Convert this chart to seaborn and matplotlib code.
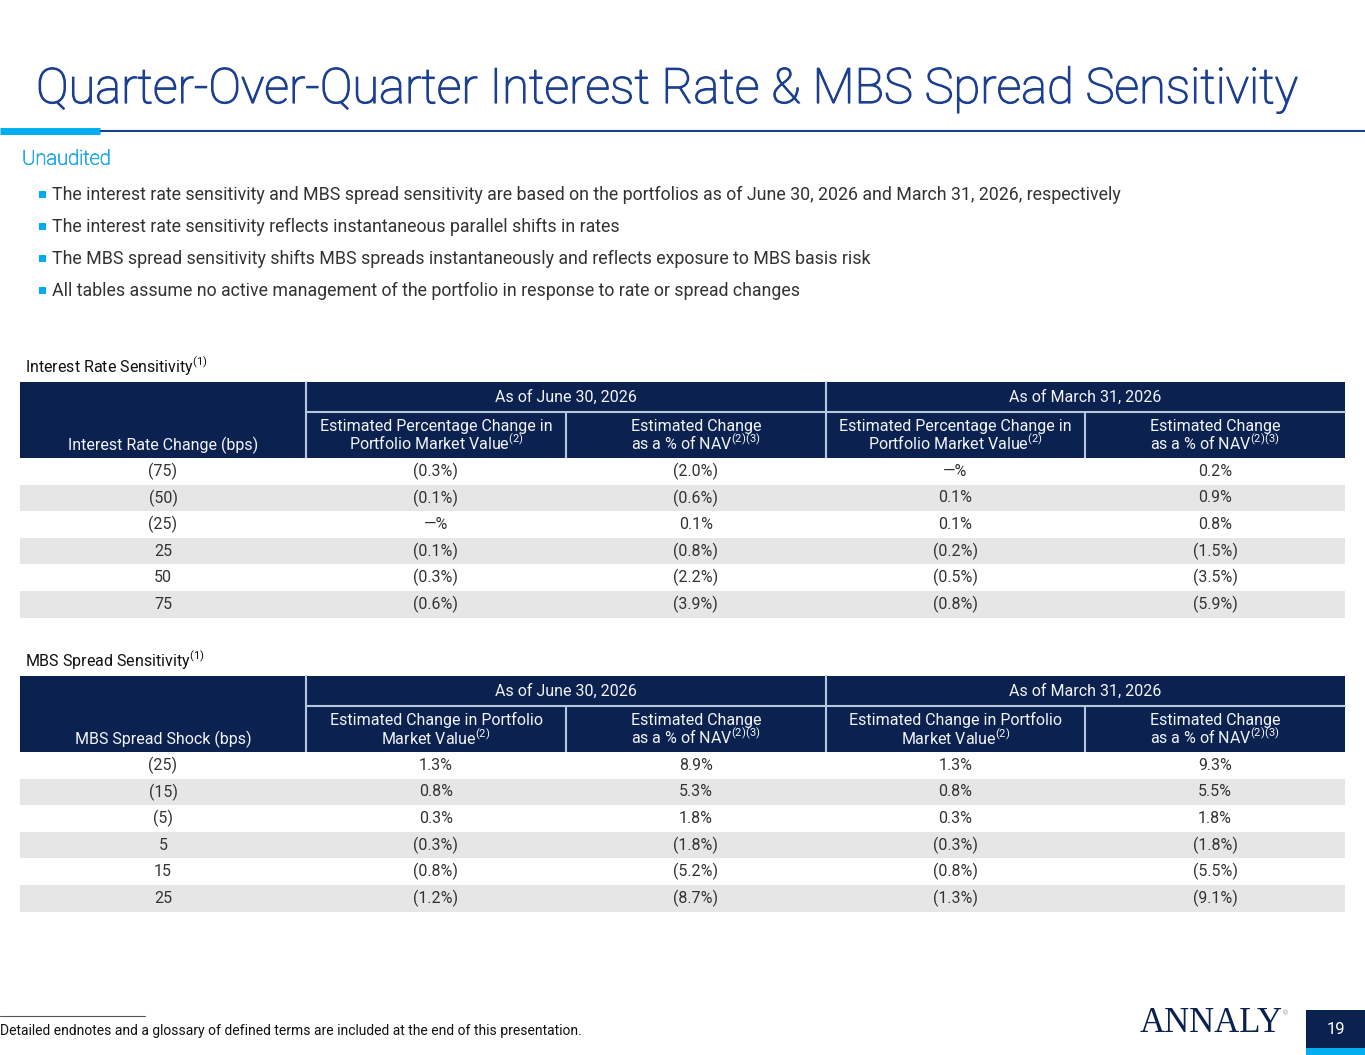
import numpy as np
import pandas as pd
import seaborn as sns
import matplotlib.pyplot as plt
import matplotlib.patheffects as pe
from matplotlib.colors import ListedColormap
from matplotlib.patches import Rectangle

# table values
rate_change = ['(75)', '(50)', '(25)', '25', '50', '75']
rate_jun_pmv = ['(0.3%)', '(0.1%)', '—%', '(0.1%)', '(0.3%)', '(0.6%)']
rate_jun_nav = ['(2.0%)', '(0.6%)', '0.1%', '(0.8%)', '(2.2%)', '(3.9%)']
rate_mar_pmv = ['—%', '0.1%', '0.1%', '(0.2%)', '(0.5%)', '(0.8%)']
rate_mar_nav = ['0.2%', '0.9%', '0.8%', '(1.5%)', '(3.5%)', '(5.9%)']

spread_shock = ['(25)', '(15)', '(5)', '5', '15', '25']
spread_jun_pmv = ['1.3%', '0.8%', '0.3%', '(0.3%)', '(0.8%)', '(1.2%)']
spread_jun_nav = ['8.9%', '5.3%', '1.8%', '(1.8%)', '(5.2%)', '(8.7%)']
spread_mar_pmv = ['1.3%', '0.8%', '0.3%', '(0.3%)', '(0.8%)', '(1.3%)']
spread_mar_nav = ['9.3%', '5.5%', '1.8%', '(1.8%)', '(5.5%)', '(9.1%)']

periods = ['As of June 30, 2026', 'As of March 31, 2026']
rate_headers = ['Estimated Percentage Change in\nPortfolio Market Value$^{(2)}$',
                'Estimated Change\nas a % of NAV$^{(2)(3)}$']
spread_headers = ['Estimated Change in Portfolio\nMarket Value$^{(2)}$',
                  'Estimated Change\nas a % of NAV$^{(2)(3)}$']

bullets = [
    'The interest rate sensitivity and MBS spread sensitivity are based on the portfolios as of June 30, 2026 and March 31, 2026, respectively',
    'The interest rate sensitivity reflects instantaneous parallel shifts in rates',
    'The MBS spread sensitivity shifts MBS spreads instantaneously and reflects exposure to MBS basis risk',
    'All tables assume no active management of the portfolio in response to rate or spread changes',
]

NAVY = '#0b2250'
TITLE_BLUE = '#1c3f8f'
CYAN = '#00aeef'
STRIPE = '#e6e6e6'
TXT = '#333333'

sns.set_theme(style='white')
plt.rcParams['font.family'] = ['Roboto', 'DejaVu Sans']
plt.rcParams['mathtext.fontset'] = 'custom'
plt.rcParams['mathtext.rm'] = 'Roboto'
plt.rcParams['mathtext.it'] = 'Roboto'
plt.rcParams['mathtext.default'] = 'rm'

W, H = 1365, 1055
fig = plt.figure(figsize=(W / 100, H / 100), dpi=100)
ax = fig.add_axes([0, 0, 1, 1])
ax.set_xlim(0, W)
ax.set_ylim(H, 0)
ax.axis('off')

# title block
ax.text(36, 90, 'Quarter-Over-Quarter Interest Rate & MBS Spread Sensitivity',
        fontsize=35.2, color=TITLE_BLUE, va='center', ha='left', fontweight='light',
        path_effects=[pe.withStroke(linewidth=0.9, foreground=TITLE_BLUE)])
ax.plot([0, 100], [131, 131], color=CYAN, lw=5, solid_capstyle='butt')
ax.plot([100, W], [131, 131], color=TITLE_BLUE, lw=1.5, solid_capstyle='butt')
ax.text(22, 159, 'Unaudited', fontsize=14.5, color='#29abe2', va='center',
        fontweight='light',
        path_effects=[pe.withStroke(linewidth=0.6, foreground='#29abe2')])

for i, b in enumerate(bullets):
    y = 195 + 32 * i
    ax.add_patch(Rectangle((39, y - 4), 7, 7, color=CYAN, lw=0))
    ax.text(52, y, b, fontsize=12.8, color=TXT, va='center')

xs = [20, 306, 566, 826, 1085, 1345]
line_col = '#b8c6dc'


def draw_table(top, label, first_header, sub_headers, first_col, cols):
    ax.text(25, top - 16, label, fontsize=11.5, color='#111111', va='center')
    h1, h2 = 30, 46
    ax.add_patch(Rectangle((xs[0], top), xs[-1] - xs[0], h1 + h2, color=NAVY, lw=0))
    # grid lines inside header
    ax.plot([xs[1], xs[-1]], [top + h1, top + h1], color=line_col, lw=1.5)
    for x in (xs[1], xs[3]):
        ax.plot([x, x], [top, top + h1 + h2], color=line_col, lw=1.5)
    for x in (xs[2], xs[4]):
        ax.plot([x, x], [top + h1, top + h1 + h2], color=line_col, lw=1.5)
    ax.text((xs[0] + xs[1]) / 2, top + h1 + h2 - 13, first_header,
            fontsize=11.5, color='#f2f4f8', ha='center', va='center')
    for k, p in enumerate(periods):
        ax.text((xs[1 + 2 * k] + xs[3 + 2 * k]) / 2, top + h1 / 2, p,
                fontsize=11.5, color='#f2f4f8', ha='center', va='center')
    for k in range(4):
        ax.text((xs[1 + k] + xs[2 + k]) / 2, top + h1 + h2 / 2 + 1, sub_headers[k % 2],
                fontsize=11.5, color='#f2f4f8', ha='center', va='center',
                linespacing=0.95)

    # body through seaborn heatmaps
    body_top = top + h1 + h2
    row_h = 26.6
    n = len(first_col)
    stripes = np.array([[i % 2] for i in range(n)])
    cmap = ListedColormap(['white', STRIPE])
    annot_kws = dict(fontsize=11.5, color=TXT)

    ax0 = fig.add_axes([xs[0] / W, 1 - (body_top + n * row_h) / H,
                        (xs[1] - xs[0]) / W, n * row_h / H])
    sns.heatmap(stripes, ax=ax0, cmap=cmap, vmin=0, vmax=1, cbar=False,
                annot=np.array(first_col)[:, None], fmt='', annot_kws=annot_kws,
                xticklabels=False, yticklabels=False)
    ax0.axis('off')

    body = pd.DataFrame(dict(zip(range(4), cols)))
    ax1 = fig.add_axes([xs[1] / W, 1 - (body_top + n * row_h) / H,
                        (xs[-1] - xs[1]) / W, n * row_h / H])
    sns.heatmap(np.repeat(stripes, 4, axis=1), ax=ax1, cmap=cmap, vmin=0, vmax=1,
                cbar=False, annot=body.values, fmt='', annot_kws=annot_kws,
                xticklabels=False, yticklabels=False)
    ax1.axis('off')


draw_table(382, 'Interest Rate Sensitivity$^{(1)}$', 'Interest Rate Change (bps)',
           rate_headers, rate_change,
           [rate_jun_pmv, rate_jun_nav, rate_mar_pmv, rate_mar_nav])
draw_table(676, 'MBS Spread Sensitivity$^{(1)}$', 'MBS Spread Shock (bps)',
           spread_headers, spread_shock,
           [spread_jun_pmv, spread_jun_nav, spread_mar_pmv, spread_mar_nav])

# footer
ax.plot([0, 145], [1016, 1016], color='#555555', lw=0.8)
ax.text(0, 1031, 'Detailed endnotes and a glossary of defined terms are included at the end of this presentation.',
        fontsize=10, color='#111111', va='center')
ax.text(1140, 1024, 'ANNALY', family='Liberation Serif', fontsize=25, color=NAVY,
        va='center', ha='left')
ax.text(1282, 1013, '®', family='DejaVu Sans', fontsize=5, color='#999999', va='center')
ax.add_patch(Rectangle((1306, 1010), W - 1306, 38, color=NAVY, lw=0))
ax.add_patch(Rectangle((1306, 1048), W - 1306, 7, color=CYAN, lw=0))
ax.text(1336, 1030, '19', fontsize=12, color='white', ha='center', va='center')

fig.savefig('out.png', dpi=100)
